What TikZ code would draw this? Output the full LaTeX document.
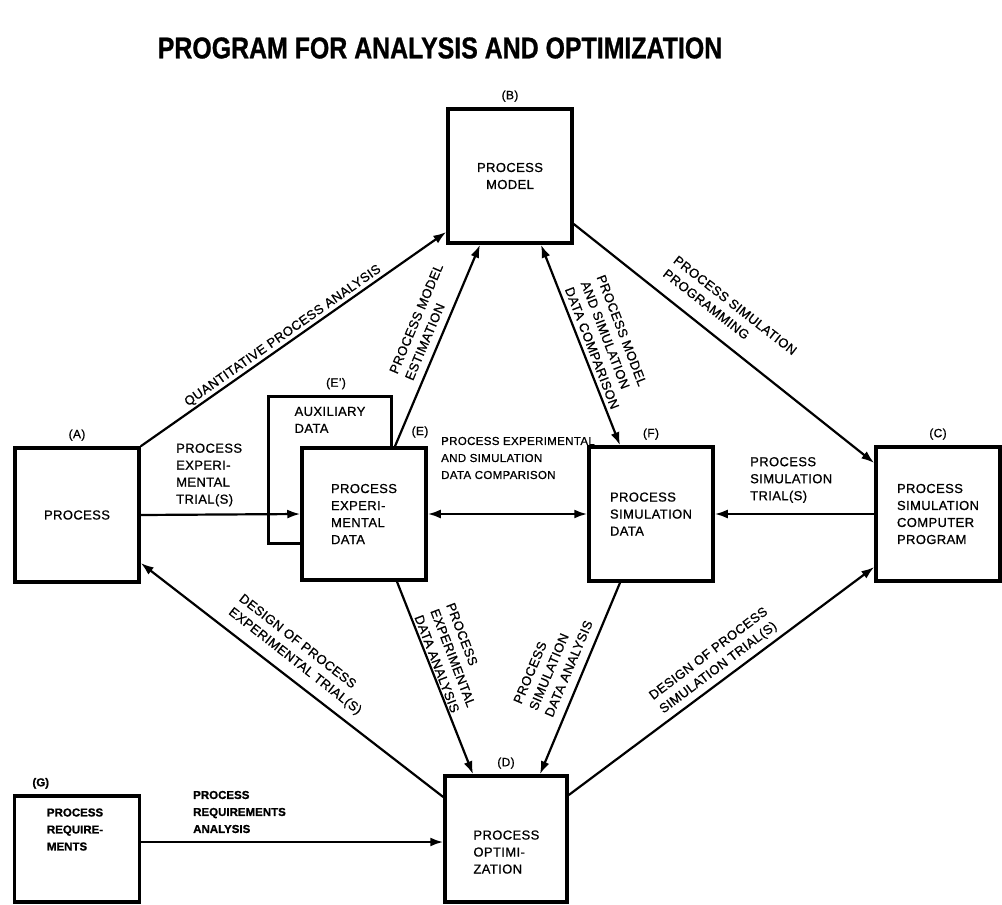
\documentclass[tikz,border=0pt]{standalone}
\usepackage{fontspec}
\setmainfont{Liberation Sans}[FakeBold=0.8,LetterSpace=3]
\newfontfamily\heavyfont{Liberation Sans Bold}[FakeBold=1]
\usetikzlibrary{arrows.meta,positioning,calc}

\begin{document}
\begin{tikzpicture}[x=1pt,y=-1pt,
  box/.style={draw,line width=3.5pt,fill=white,minimum width=124pt,minimum height=134pt,align=left,inner sep=0pt},
  tag/.style={font=\fontsize{12}{14}\selectfont},
  lbl/.style={font=\fontsize{13}{17}\selectfont,align=left,inner sep=0pt},
  heavy/.style={font=\fontsize{11.5}{17}\heavyfont},
  arr/.style={line width=2.2pt,-{Latex[length=13pt,width=9pt]}},
  darr/.style={line width=2.2pt,{Latex[length=13pt,width=9pt]}-{Latex[length=13pt,width=9pt]}},
  font=\fontsize{13}{17}\selectfont]
\useasboundingbox (0,0) rectangle (1002,905);

\node[font=\fontsize{30}{32}\heavyfont] (title) at (440,48)
  {\scalebox{0.83}[1]{PROGRAM FOR ANALYSIS AND OPTIMIZATION}};

% boxes
\node[box,align=center] (b) at (510,176) {PROCESS\\MODEL};
\node[box] (a) at (77,515) {PROCESS};
\node[box,minimum width=123pt,minimum height=147pt] (aux) at (330,470) {};
\node[lbl,below=12pt of aux.north] (auxtxt) {AUXILIARY\\DATA};
\node[box,minimum height=132pt] (e) at (364,514) {PROCESS\\EXPERI-\\MENTAL\\DATA};
\node[box] (f) at (651,514) {PROCESS\\SIMULATION\\DATA};
\node[box] (c) at (938,514) {PROCESS\\SIMULATION\\COMPUTER\\PROGRAM};
\node[box,minimum width=122pt,minimum height=126pt] (d) at (506,839) {};
\node[lbl,below right=56pt and 30pt of d.north west] (dtxt) {PROCESS\\OPTIMI-\\ZATION};
\node[box,minimum width=125pt,minimum height=106pt] (g) at (77,849) {};
\node[lbl,heavy,below right=14pt and 34pt of g.north west] (gtxt) {PROCESS\\REQUIRE-\\MENTS};

\node[tag,above=2pt of b] (tb) {(B)};
\node[tag,above=2pt of a] (ta) {(A)};
\node[tag,above=2pt of aux,xshift=6pt] (taux) {(E')};
\node[tag] (te) at (420,432) {(E)};
\node[tag,above=2pt of f] (tf) {(F)};
\node[tag,above=2pt of c] (tc) {(C)};
\node[tag,above=2pt of d] (td) {(D)};
\node[tag,heavy,above right=2pt and 28pt of g.north west,anchor=south] (tg) {(G)};

% links to and from the model
\draw[arr] (a.north east) -- ([yshift=-56pt]b.west);
\draw[arr] ([xshift=31pt]e.north) -- ([xshift=-30pt]b.south);
\draw[darr] ([xshift=31pt]b.south) -- ([xshift=-31pt]f.north);
\draw[arr] ([yshift=-48pt]b.east) -- ([yshift=51pt]c.west);

% middle row
\draw[arr] (a.east) -- (e.west);
\draw[darr] (e.east) -- (f.west);
\draw[arr] (c.west) -- (f.east);

% links to and from the optimization
\draw[arr] ([xshift=33pt]e.south) -- ([xshift=-33pt]d.north);
\draw[arr] ([xshift=-31pt]f.south) -- ([xshift=34pt]d.north);
\draw[arr] ([yshift=42pt]d.west) -- ([yshift=-48pt]a.east);
\draw[arr] ([yshift=44pt]d.east) -- ([yshift=-53pt]c.west);
\draw[arr] ([yshift=7pt]g.east) -- ([yshift=7pt]g.east -| d.west);

% link labels
\node[lbl,rotate=35] (l-qpa) at (283,336) {QUANTITATIVE PROCESS ANALYSIS};
\node[lbl,rotate=67] (l-pme) at (424,322) {PROCESS MODEL\\ESTIMATION};
\node[lbl,rotate=-69] (l-pmsc) at (608,342) {PROCESS MODEL\\AND SIMULATION\\DATA COMPARISON};
\node[lbl,rotate=-38] (l-psp) at (730,312) {PROCESS SIMULATION\\PROGRAMMING};
\node[lbl,anchor=west] (l-pet) at (176,475) {PROCESS\\EXPERI-\\MENTAL\\TRIAL(S)};
\node[lbl,anchor=west,font=\fontsize{11.5}{17}\selectfont] (l-pesc) at (441,458) {PROCESS EXPERIMENTAL\\AND SIMULATION\\DATA COMPARISON};
\node[lbl,anchor=west] (l-pst) at (750,480) {PROCESS\\SIMULATION\\TRIAL(S)};
\node[lbl,rotate=-69] (l-peda) at (453,658) {PROCESS\\EXPERIMENTAL\\DATA ANALYSIS};
\node[lbl,rotate=67] (l-psda) at (553,662) {PROCESS\\SIMULATION\\DATA ANALYSIS};
\node[lbl,rotate=-38] (l-dpet) at (300,655) {DESIGN OF PROCESS\\EXPERIMENTAL TRIAL(S)};
\node[lbl,rotate=37] (l-dpst) at (714,661) {DESIGN OF PROCESS\\SIMULATION TRIAL(S)};
\node[lbl,heavy,anchor=west] (l-pra) at (193,812) {PROCESS\\REQUIREMENTS\\ANALYSIS};
\end{tikzpicture}
\end{document}
